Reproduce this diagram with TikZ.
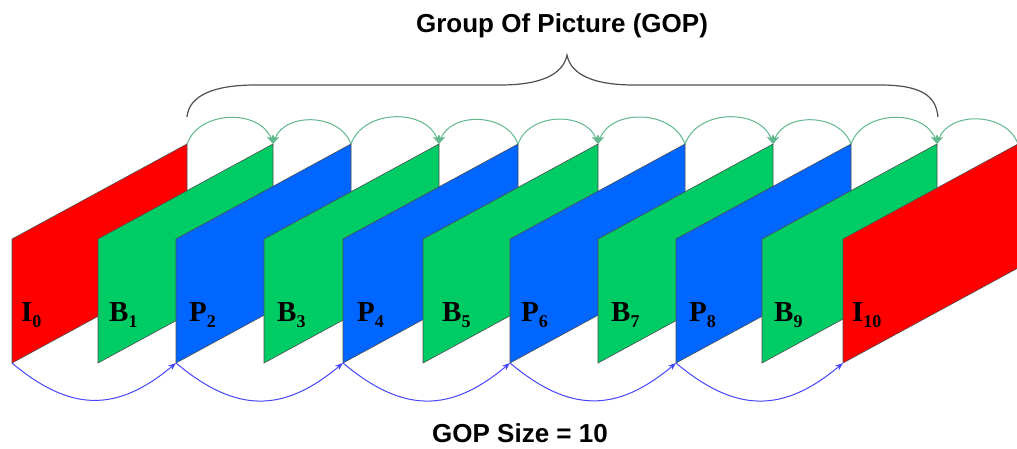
\documentclass[tikz,border=0pt]{standalone}
\usepackage{fontspec}
\setmainfont{Liberation Serif}
\newfontfamily\arialfont{Liberation Sans}
\usetikzlibrary{arrows.meta}

\definecolor{framered}{RGB}{255,0,0}
\definecolor{framegreen}{RGB}{0,204,102}
\definecolor{frameblue}{RGB}{0,102,255}
\definecolor{toparc}{RGB}{96,184,140}
\definecolor{botarc}{RGB}{70,70,255}
\definecolor{bracegray}{RGB}{80,80,80}
\newcommand\frsub[1]{\raisebox{-6pt}{\fontsize{18}{18}\selectfont #1}}

\begin{document}
\begin{tikzpicture}[x=1pt,y=1pt,
  frame/.style={draw=black!70, line width=0.6pt, line join=miter},
  toparrow/.style={draw=toparc, line width=1pt, -{Stealth[length=9pt,width=7pt]}},
  botarrow/.style={draw=botarc, line width=1pt, -{Stealth[length=8pt,width=6pt]}},
  framelabel/.style={anchor=base west, inner sep=0pt, font=\fontsize{29}{29}\selectfont\bfseries},
  titletext/.style={anchor=base, inner sep=0pt, font=\arialfont\bfseries\fontsize{26}{30}\selectfont},
  bracestyle/.style={draw=bracegray, line width=1.2pt}
]
\clip (0,0) rectangle (1017,-448);
\fill[white] (0,0) rectangle (1017,-448);

% frames
\foreach \n/\x/\c in {0/12/framered, 1/98/framegreen, 2/176/frameblue, 3/264/framegreen,
  4/343/frameblue, 5/423/framegreen, 6/510/frameblue, 7/598/framegreen,
  8/676/frameblue, 9/762/framegreen, 10/843/framered} {
  \coordinate (bl\n) at (\x,-363);
  \coordinate (tl\n) at (\x,-239);
  \coordinate (tr\n) at (\x+175,-144);
  \coordinate (br\n) at (\x+175,-268);
  \filldraw[frame, fill=\c] (bl\n) -- (tl\n) -- (tr\n) -- (br\n) -- cycle;
}

% frame labels
\node[framelabel] (L0) at (21,-321) {I\frsub{0}};
\node[framelabel] (L1) at (109,-321) {B\frsub{1}};
\node[framelabel] (L2) at (189,-321) {P\frsub{2}};
\node[framelabel] (L3) at (277,-321) {B\frsub{3}};
\node[framelabel] (L4) at (357,-321) {P\frsub{4}};
\node[framelabel] (L5) at (442,-321) {B\frsub{5}};
\node[framelabel] (L6) at (521,-321) {P\frsub{6}};
\node[framelabel] (L7) at (611,-321) {B\frsub{7}};
\node[framelabel] (L8) at (689,-321) {P\frsub{8}};
\node[framelabel] (L9) at (774,-321) {B\frsub{9}};
\node[framelabel] (L10) at (852,-321) {I\frsub{10}};

% top (B-frame prediction) arcs
\foreach \a/\b in {0/1, 2/3, 4/5, 6/7, 8/9} {
  \draw[toparrow] (tr\a) to[out=70,in=110,looseness=1.1] (tr\b);
}
\foreach \a/\b in {2/1, 4/3, 6/5, 8/7, 10/9} {
  \draw[toparrow] (tr\a) to[out=110,in=70,looseness=1.1] (tr\b);
}

% bottom (P-frame prediction) arcs
\foreach \a/\b in {0/2, 2/4, 4/6, 6/8, 8/10} {
  \draw[botarrow] (bl\a) to[out=-40,in=-140,looseness=1.2] (bl\b);
}

% brace
\coordinate (braceL) at (187,-117);
\coordinate (braceR) at (938,-117);
\coordinate (braceTip) at (567,-55);
\draw[bracestyle] (braceL) .. controls (189,-95) and (215,-85) .. (255,-85)
  -- (500,-85) .. controls (540,-85) and (563,-75) .. (braceTip)
  .. controls (571,-75) and (594,-85) .. (634,-85)
  -- (880,-85) .. controls (920,-85) and (936,-95) .. (braceR);

% texts
\node[titletext] (gop) at (562,-32) {Group Of Picture (GOP)};
\node[titletext] (gopsize) at (520,-442) {GOP Size = 10};
\end{tikzpicture}
\end{document}
